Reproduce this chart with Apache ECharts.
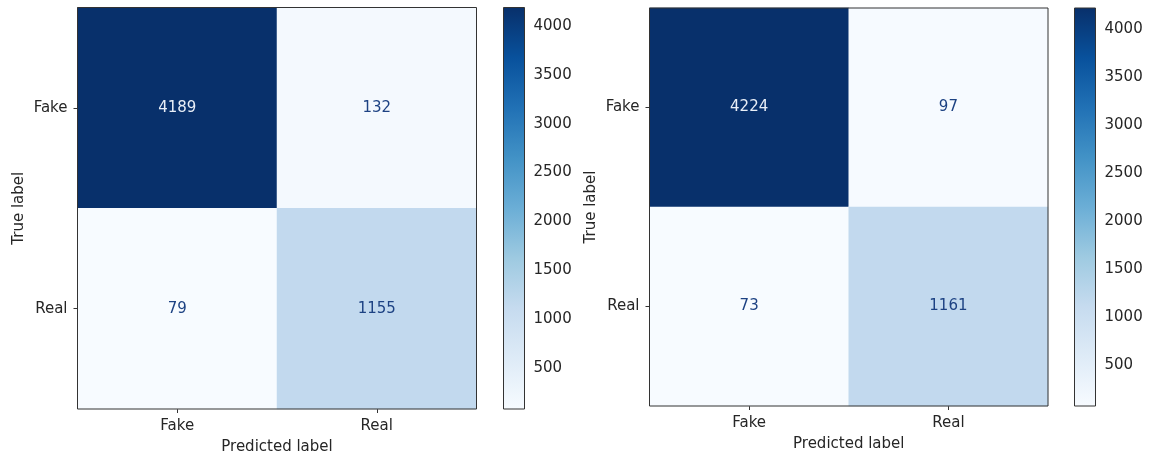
<!DOCTYPE html>
<html>
<head>
<meta charset="utf-8">
<script src="https://cdn.jsdelivr.net/npm/echarts@6/dist/echarts.min.js"></script>
<style>
  html, body { margin: 0; padding: 0; background: #ffffff; }
  #chart { width: 1149px; height: 454px; }
</style>
</head>
<body>
<div id="chart"></div>
<script>
// ---- data ----
const categories = ['Fake', 'Real'];
// rows = true label, columns = predicted label
const matrixLeft = [[4189, 132], [79, 1155]];
const matrixRight = [[4224, 97], [73, 1161]];
const colorbarTicks = [500, 1000, 1500, 2000, 2500, 3000, 3500, 4000];
const blues = ['#f7fbff', '#deebf7', '#c6dbef', '#9ecae1', '#6baed6', '#4292c6', '#2171b5', '#08519c', '#08306b'];

const FONT = 'DejaVu Sans';
const FS = 15;
const TXT = '#262626';

function flat(m) { return m.reduce((a, r) => a.concat(r), []); }
function heatData(m) {
  const vals = flat(m);
  const lo = Math.min(...vals), hi = Math.max(...vals);
  const thr = (lo + hi) / 2;
  const out = [];
  m.forEach((row, i) => row.forEach((v, j) => {
    out.push({ value: [j, i, v], label: { color: v > thr ? '#e8eef7' : '#1d4283' } });
  }));
  return out;
}

const grids = [
  { left: 77.5, top: 7.5, width: 399, height: 401.5 },
  { left: 503.5, top: 7.5, width: 21, height: 401.5 },
  { left: 649.5, top: 8, width: 398.5, height: 398 },
  { left: 1074.5, top: 8, width: 21, height: 398 }
].map(g => Object.assign({
  show: true, z: 10, borderColor: '#333', borderWidth: 1, backgroundColor: 'transparent',
  containLabel: false, outerBoundsMode: 'none'
}, g));

const catX = (gi) => ({
  type: 'category', gridIndex: gi, data: categories, position: 'bottom',
  name: 'Predicted label', nameLocation: 'middle', nameGap: 31,
  nameTextStyle: { fontFamily: FONT, fontSize: FS, color: TXT },
  axisLine: { show: false },
  axisTick: { show: true, alignWithLabel: true, length: 4, lineStyle: { color: '#333' } },
  axisLabel: { fontFamily: FONT, fontSize: FS, color: TXT, margin: 10 },
  splitLine: { show: false }
});
const catY = (gi) => ({
  type: 'category', gridIndex: gi, data: categories, inverse: true, position: 'left',
  name: 'True label', nameLocation: 'middle', nameGap: 51, nameRotate: 90,
  nameTextStyle: { fontFamily: FONT, fontSize: FS, color: TXT },
  axisLine: { show: false },
  axisTick: { show: true, alignWithLabel: true, length: 4, lineStyle: { color: '#333' } },
  axisLabel: { fontFamily: FONT, fontSize: FS, color: TXT, margin: 10 },
  splitLine: { show: false }
});
const cbX = (gi) => ({ type: 'value', gridIndex: gi, min: 0, max: 1, show: false });
const cbY = (gi, m) => {
  const vals = flat(m);
  return {
    type: 'value', gridIndex: gi, position: 'right',
    min: Math.min(...vals), max: Math.max(...vals),
    axisLine: { show: false },
    splitLine: { show: false },
    axisTick: { show: true, length: 4, lineStyle: { color: '#333' }, customValues: colorbarTicks },
    axisLabel: { fontFamily: FONT, fontSize: FS, color: TXT, margin: 9, customValues: colorbarTicks, formatter: v => String(v) }
  };
};

function colorbarSeries(xi, m) {
  const vals = flat(m);
  const lo = Math.min(...vals), hi = Math.max(...vals);
  return {
    type: 'custom', xAxisIndex: xi, yAxisIndex: xi, silent: true,
    data: [[0, lo, 1, hi]],
    renderItem: function (params, api) {
      const p0 = api.coord([api.value(0), api.value(1)]);
      const p1 = api.coord([api.value(2), api.value(3)]);
      const stops = blues.map((c, k) => ({ offset: k / (blues.length - 1), color: c }));
      return {
        type: 'rect',
        shape: { x: p0[0], y: p1[1], width: p1[0] - p0[0], height: p0[1] - p1[1] },
        style: { fill: new echarts.graphic.LinearGradient(0, 1, 0, 0, stops) }
      };
    }
  };
}

function heatSeries(xi, m) {
  return {
    type: 'heatmap', xAxisIndex: xi, yAxisIndex: xi,
    data: heatData(m),
    label: { show: true, fontFamily: FONT, fontSize: FS, formatter: p => String(p.value[2]) },
    itemStyle: { borderWidth: 0 },
    emphasis: { disabled: true }
  };
}

const chart = echarts.init(document.getElementById('chart'), null, { renderer: 'canvas' });
const vl = flat(matrixLeft), vr = flat(matrixRight);
chart.setOption({
  animation: false,
  backgroundColor: '#ffffff',
  grid: grids,
  xAxis: [catX(0), cbX(1), catX(2), cbX(3)],
  yAxis: [catY(0), cbY(1, matrixLeft), catY(2), cbY(3, matrixRight)],
  visualMap: [
    { type: 'continuous', show: false, seriesIndex: 0, min: Math.min(...vl), max: Math.max(...vl), dimension: 2, inRange: { color: blues } },
    { type: 'continuous', show: false, seriesIndex: 2, min: Math.min(...vr), max: Math.max(...vr), dimension: 2, inRange: { color: blues } }
  ],
  series: [
    heatSeries(0, matrixLeft),
    colorbarSeries(1, matrixLeft),
    heatSeries(2, matrixRight),
    colorbarSeries(3, matrixRight)
  ]
});
</script>
</body>
</html>
